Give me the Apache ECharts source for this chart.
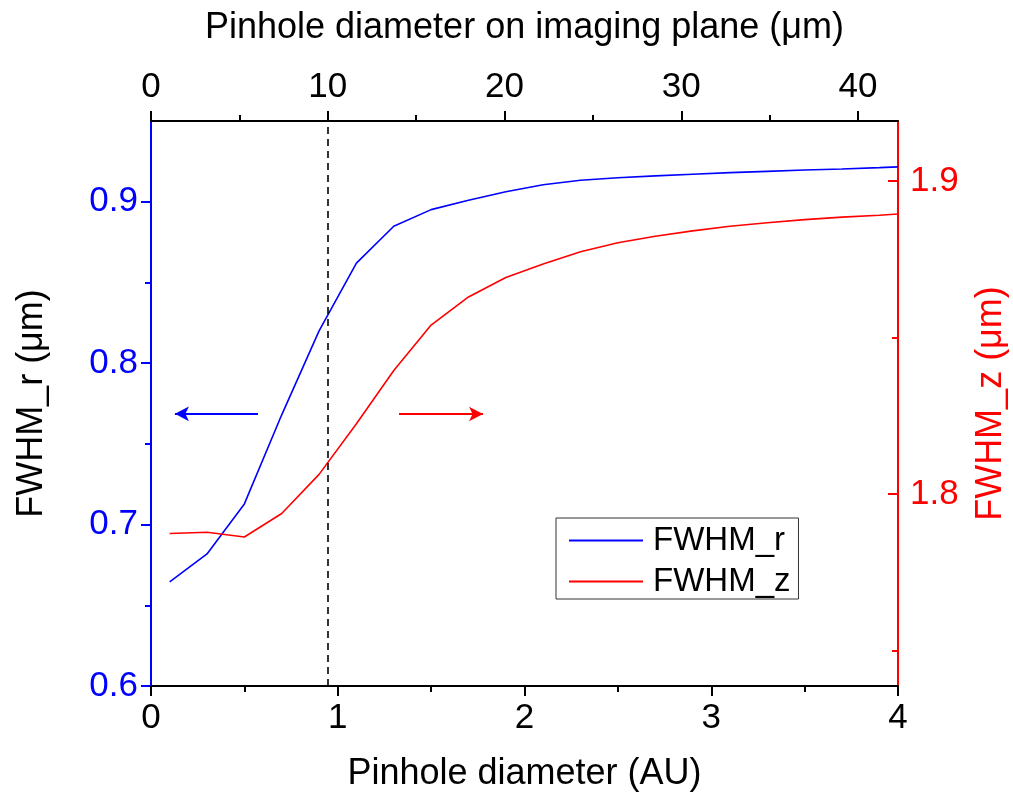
<!DOCTYPE html>
<html><head><meta charset="utf-8">
<script src="https://cdn.jsdelivr.net/npm/echarts@6/dist/echarts.min.js"></script>
<style>html,body{margin:0;padding:0;background:#fff}#c{width:1013px;height:796px}</style>
</head><body><div id="c"></div>
<script>
// ---- data ----
const pinholeAU = [0.1,0.3,0.5,0.7,0.9,1.1,1.3,1.5,1.7,1.9,2.1,2.3,2.5,2.7,2.9,3.1,3.3,3.5,3.7,3.9,4.0];
const fwhmR = [0.6645,0.6818,0.7128,0.768,0.820,0.862,0.8848,0.8951,0.9009,0.9062,0.9105,0.9133,0.9148,0.916,0.917,0.918,0.9188,0.9196,0.9203,0.9211,0.9216];
const fwhmZ = [1.7874,1.7878,1.7863,1.7938,1.8063,1.8225,1.8395,1.854,1.863,1.8692,1.8735,1.8774,1.8803,1.8824,1.8841,1.8856,1.8867,1.8877,1.8885,1.8891,1.8895];
const bottomTicks = [0,1,2,3,4];
const topTicks = [0,10,20,30,40];
const topMinor = [5,15,25,35];
const leftTicks = [0.6,0.7,0.8,0.9];
const leftMinor = [0.65,0.75,0.85];
const rightTicks = [1.8,1.9];
const rightMinor = [1.75,1.85];
const dashedAtAU = 0.947;        // 10 µm on imaging plane
const arrowR = [[0.573,0.7686],[0.128,0.7686]];
const arrowZ = [[1.328,1.8256],[1.778,1.8256]];
// ----------------
const FONT = "'Liberation Sans', Arial, sans-serif";
const BLUE = '#0000ff', RED = '#ff0000';
const rangeL = [0.6, 0.95], rangeR = [1.7387, 1.9192], rangeTop = [0, 42.26];

const chart = echarts.init(document.getElementById('c'), null, {renderer:'canvas'});
function pairs(xs, ys){ return xs.map((x,i)=>[x, ys[i]]); }

const baseY = (pos, range, color) => ({
  type:'value', position:pos, min:range[0], max:range[1], scale:true,
  splitLine:{show:false},
  axisLine:{show:true, onZero:false, lineStyle:{color:color, width:2}},
});

const option = {
  animation:false,
  textStyle:{fontFamily:FONT},
  grid:{left:151, right:115, top:121, bottom:110, containLabel:false, outerBoundsMode:'none'},
  legend:{
    orient:'vertical', left:556, top:518,
    padding:[6,8,1,13], itemGap:8, itemWidth:74, itemHeight:2,
    borderColor:'#333', borderWidth:1,
    textStyle:{fontSize:33, color:'#000', fontFamily:FONT, padding:[0,0,0,5]},
    data:[{name:'FWHM_r', icon:'rect'},{name:'FWHM_z', icon:'rect'}]
  },
  xAxis:[
    { type:'value', position:'bottom', min:0, max:4, interval:1,
      name:'Pinhole diameter (AU)', nameLocation:'middle', nameGap:70,
      nameTextStyle:{fontSize:36, color:'#000', fontFamily:FONT},
      splitLine:{show:false},
      axisLine:{show:true, onZero:false, lineStyle:{color:'#000', width:2}},
      axisTick:{show:true, length:10, lineStyle:{color:'#000', width:2}},
      minorTick:{show:true, splitNumber:2, length:6, lineStyle:{color:'#000', width:2}},
      axisLabel:{fontSize:35, color:'#000', margin:15, fontFamily:FONT,
        customValues: bottomTicks}
    },
    { type:'value', position:'top', min:rangeTop[0], max:rangeTop[1],
      name:'Pinhole diameter on imaging plane (\u03bcm)', nameLocation:'middle', nameGap:75,
      nameTextStyle:{fontSize:36, color:'#000', fontFamily:FONT},
      splitLine:{show:false},
      axisLine:{show:true, onZero:false, lineStyle:{color:'#000', width:2}},
      axisTick:{show:true, length:10, lineStyle:{color:'#000', width:2}, customValues: topTicks},
      axisLabel:{fontSize:35, color:'#000', margin:16, fontFamily:FONT, customValues: topTicks}
    },
    { type:'value', position:'top', min:rangeTop[0], max:rangeTop[1],
      splitLine:{show:false}, axisLine:{show:false, onZero:false},
      axisTick:{show:true, length:6, lineStyle:{color:'#000', width:2}, customValues: topMinor},
      axisLabel:{show:false, customValues: topMinor}
    }
  ],
  yAxis:[
    Object.assign(baseY('left', rangeL, BLUE), {
      name:'FWHM_r (\u03bcm)', nameLocation:'middle', nameGap:101,
      nameTextStyle:{fontSize:36, color:'#000', fontFamily:FONT},
      axisTick:{show:true, length:10, lineStyle:{color:BLUE, width:2}, customValues:leftTicks},
      axisLabel:{fontSize:35, color:BLUE, margin:13, fontFamily:FONT, customValues:leftTicks,
        formatter:v=>v.toFixed(1)}
    }),
    Object.assign(baseY('left', rangeL, BLUE), {
      axisLine:{show:false, onZero:false},
      axisTick:{show:true, length:6, lineStyle:{color:BLUE, width:2}, customValues:leftMinor},
      axisLabel:{show:false, customValues:leftMinor}
    }),
    Object.assign(baseY('right', rangeR, RED), {
      name:'FWHM_z (\u03bcm)', nameLocation:'middle', nameGap:75,
      nameTextStyle:{fontSize:36, color:RED, fontFamily:FONT},
      axisTick:{show:true, inside:true, length:10, lineStyle:{color:RED, width:2}, customValues:rightTicks},
      axisLabel:{fontSize:35, color:RED, margin:12, fontFamily:FONT, customValues:rightTicks,
        formatter:v=>v.toFixed(1)}
    }),
    Object.assign(baseY('right', rangeR, RED), {
      axisLine:{show:false, onZero:false},
      axisTick:{show:true, inside:true, length:6, lineStyle:{color:RED, width:2}, customValues:rightMinor},
      axisLabel:{show:false, customValues:rightMinor}
    })
  ],
  series:[
    { name:'FWHM_r', type:'line', xAxisIndex:0, yAxisIndex:0,
      data:pairs(pinholeAU, fwhmR), symbol:'none', showSymbol:false,
      lineStyle:{color:BLUE, width:1.6}, itemStyle:{color:BLUE}, z:3,
      markLine:{ silent:true, animation:false, label:{show:false},
        data:[
          [{xAxis:dashedAtAU, yAxis:rangeL[0], symbol:'none', lineStyle:{color:'#000', width:1.6, type:[7,5]}},
           {xAxis:dashedAtAU, yAxis:rangeL[1], symbol:'none'}],
          [{coord:arrowR[0], symbol:'none', lineStyle:{color:BLUE, width:2, type:'solid'}},
           {coord:arrowR[1], symbol:'arrow', symbolSize:[11,14]}]
        ]}
    },
    { name:'FWHM_z', type:'line', xAxisIndex:0, yAxisIndex:2,
      data:pairs(pinholeAU, fwhmZ), symbol:'none', showSymbol:false,
      lineStyle:{color:RED, width:1.6}, itemStyle:{color:RED}, z:3,
      markLine:{ silent:true, animation:false, label:{show:false},
        data:[
          [{coord:arrowZ[0], symbol:'none', lineStyle:{color:RED, width:2, type:'solid'}},
           {coord:arrowZ[1], symbol:'arrow', symbolSize:[11,14]}]
        ]}
    }
  ]
};
chart.setOption(option);
</script></body></html>
